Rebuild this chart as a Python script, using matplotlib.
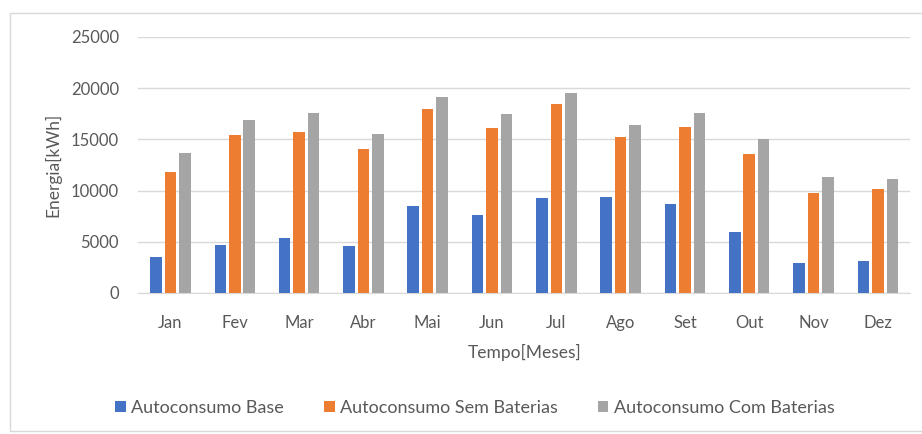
import numpy as np
import matplotlib.pyplot as plt
from matplotlib.patches import Rectangle

months = ["Jan", "Fev", "Mar", "Abr", "Mai", "Jun", "Jul", "Ago", "Set", "Out", "Nov", "Dez"]
base = [3500, 4700, 5350, 4600, 8500, 7650, 9250, 9400, 8650, 5950, 2950, 3150]
sem_baterias = [11850, 15400, 15750, 14050, 17950, 16100, 18400, 15250, 16250, 13550, 9750, 10150]
com_baterias = [13700, 16850, 17550, 15500, 19150, 17450, 19500, 16350, 17550, 15000, 11350, 11100]
series_names = ["Autoconsumo Base", "Autoconsumo Sem Baterias", "Autoconsumo Com Baterias"]
colors = ["#4472C4", "#ED7D31", "#A5A5A5"]

plt.rcParams["font.family"] = ["Lato", "DejaVu Sans"]
text_color = "#595959"

fig = plt.figure(figsize=(9.22, 4.34), dpi=100)
ax = fig.add_axes([0.150, 0.325, 0.837, 0.590])

# outer chart frame
fig.patches.append(Rectangle((10 / 922, 3 / 434), 1.1, 418 / 434, transform=fig.transFigure,
                             fill=False, edgecolor="#D9D9D9", linewidth=1.0))

x = np.arange(len(months))
step, width = 0.225, 0.18
for i, (vals, name, c) in enumerate(zip([base, sem_baterias, com_baterias], series_names, colors)):
    ax.bar(x + (i - 1) * step, vals, width, color=c, label=name, zorder=3)

ax.set_ylim(0, 25000)
ax.set_xlim(-0.5, len(months) - 0.5)
ax.set_yticks(range(0, 25001, 5000))
ax.set_xticks(x)
ax.set_xticklabels(months)
ax.grid(axis="y", color="#D9D9D9", linewidth=1.0, zorder=0)
for side in ["top", "right", "left"]:
    ax.spines[side].set_visible(False)
ax.spines["bottom"].set_color("#D9D9D9")
ax.tick_params(length=0, labelsize=12, colors=text_color)
ax.tick_params(axis="x", pad=16)
ax.tick_params(axis="y", pad=14)

ax.set_ylabel("Energia[kWh]", fontsize=12.5, color=text_color)
ax.yaxis.set_label_coords(-0.100, 0.5)
ax.set_xlabel("Tempo[Meses]", fontsize=12.5, color=text_color, labelpad=9)

fig.legend(loc="center", bbox_to_anchor=(0.515, 0.06), ncol=3, frameon=False,
           fontsize=13, labelcolor=text_color, handlelength=0.6, handleheight=0.6,
           handletextpad=0.3, columnspacing=2.2)

fig.savefig("out.png", dpi=100)
